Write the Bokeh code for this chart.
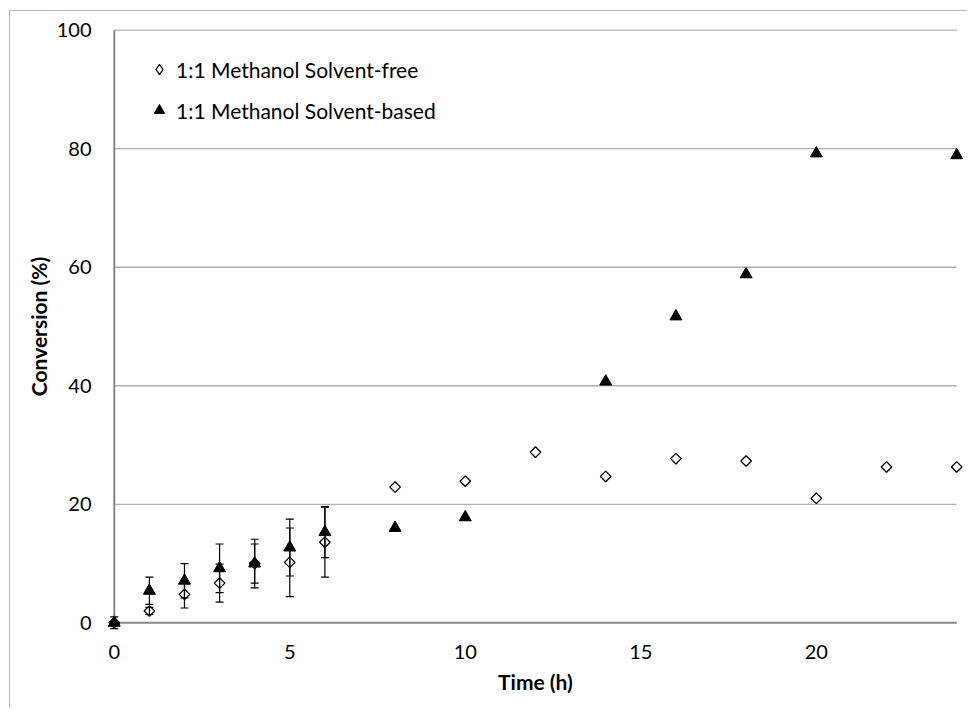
from bokeh.plotting import figure
from bokeh.models import (ColumnDataSource, Range1d, FixedTicker, Whisker, TeeHead,
                          Legend, LegendItem)
from bokeh.embed import file_html
from bokeh.resources import INLINE
import math

# ---- data ----
time_free = [0, 1, 2, 3, 4, 5, 6, 8, 10, 12, 14, 16, 18, 20, 22, 24]
conv_free = [0, 2.0, 4.8, 6.7, 10.0, 10.2, 13.6, 22.9, 23.9, 28.8, 24.7, 27.7, 27.3, 21.0, 26.3, 26.3]
err_free = [0, 0.6, 2.3, 3.2, 4.1, 5.8, 5.9, 0, 0, 0, 0, 0, 0, 0, 0, 0]

time_based = [0, 1, 2, 3, 4, 5, 6, 8, 10, 14, 16, 18, 20, 24]
conv_based = [0, 5.4, 7.1, 9.2, 10.0, 12.7, 15.3, 16.0, 17.8, 40.7, 51.7, 58.8, 79.2, 78.9]
err_based = [1.0, 2.3, 2.9, 4.1, 3.3, 4.8, 4.3, 0, 0, 0, 0, 0, 0, 0]

x_ticks = [0, 5, 10, 15, 20]
y_ticks = [0, 20, 40, 60, 80, 100]
label_free = "1:1 Methanol Solvent-free"
label_based = "1:1 Methanol Solvent-based"
x_title = "Time (h)"
y_title = "Conversion (%)"

FONT = "Lato"

p = figure(width=958, height=697, output_backend="svg", toolbar_location=None,
           x_range=Range1d(-0.25, 24.25), y_range=Range1d(-1.3, 101.3),
           min_border_left=95, min_border_right=3, min_border_top=11, min_border_bottom=78,
           styles={"margin-left": "9px", "margin-top": "10px",
                   "border-left": "1px solid #b8b8b8", "border-top": "1px solid #b8b8b8"})
p.outline_line_color = None
p.xgrid.visible = False
p.ygrid.visible = False

# gridlines and axis lines (drawn from tick values / range)
grid_y = [t for t in y_ticks if t > 0]
p.segment(x0=[0] * len(grid_y), x1=[24] * len(grid_y), y0=grid_y, y1=grid_y,
          line_color="#b0b0b0", line_width=1.3)
p.segment(x0=[0, 0], y0=[0, 0], x1=[24, 0], y1=[0, 100], line_color="#878787", line_width=2)

for ax in (p.xaxis[0], p.yaxis[0]):
    ax.axis_line_color = None
    ax.major_tick_line_color = None
    ax.minor_tick_line_color = None
    ax.major_tick_out = 0
    ax.major_tick_in = 0
    ax.minor_tick_out = 0
    ax.minor_tick_in = 0
    ax.major_label_text_font = FONT
    ax.major_label_text_font_size = "20px"
    ax.major_label_text_color = "#000000"
    ax.axis_label_text_font = FONT
    ax.axis_label_text_font_size = "21px"
    ax.axis_label_text_font_style = "bold"
    ax.axis_label_text_color = "#000000"

p.xaxis.ticker = FixedTicker(ticks=x_ticks)
p.yaxis.ticker = FixedTicker(ticks=y_ticks)
p.xaxis.axis_label = x_title
p.yaxis.axis_label = y_title
p.xaxis.major_label_standoff = 14
p.yaxis.major_label_standoff = 14
p.xaxis.axis_label_standoff = 7
p.yaxis.axis_label_standoff = 3

# error bars
def whisker_source(xs, ys, es):
    xx, lo, up = [], [], []
    for x, y, e in zip(xs, ys, es):
        if e > 0:
            xx.append(x); lo.append(y - e); up.append(y + e)
    return ColumnDataSource(dict(x=xx, lower=lo, upper=up))

src_free = ColumnDataSource(dict(x=time_free, y=conv_free))
src_based = ColumnDataSource(dict(x=time_based, y=conv_based))

# legend key glyph for the open diamond: drawn first, hidden beneath the rotated squares
r_free_key = p.scatter("x", "y", source=src_free, marker="diamond", size=8.5,
                       fill_color="white", line_color="black", line_width=1.3)
r_free = p.scatter("x", "y", source=src_free, marker="square", angle=math.pi / 4, size=7.5,
                   fill_color="white", line_color="black", line_width=1.3)
r_based = p.scatter("x", "y", source=src_based, marker="triangle", size=12,
                    fill_color="black", line_color="black", line_width=1)

for xs, ys, es in ((time_free, conv_free, err_free), (time_based, conv_based, err_based)):
    w = Whisker(source=whisker_source(xs, ys, es), base="x", lower="lower", upper="upper",
                line_color="black", line_width=1.2, level="overlay",
                upper_head=TeeHead(size=8, line_color="black", line_width=1.2),
                lower_head=TeeHead(size=8, line_color="black", line_width=1.2))
    p.add_layout(w)

legend = Legend(items=[LegendItem(label=label_free, renderers=[r_free_key]),
                       LegendItem(label=label_based, renderers=[r_based])],
                location=(41, 507), margin=0, padding=10, spacing=15,
                glyph_width=26, glyph_height=26, label_height=26, label_standoff=4,
                label_text_font=FONT, label_text_font_size="21px", label_text_color="#000000",
                border_line_color=None, background_fill_alpha=0)
p.add_layout(legend)

open("out.html", "w").write(file_html(p, INLINE))
